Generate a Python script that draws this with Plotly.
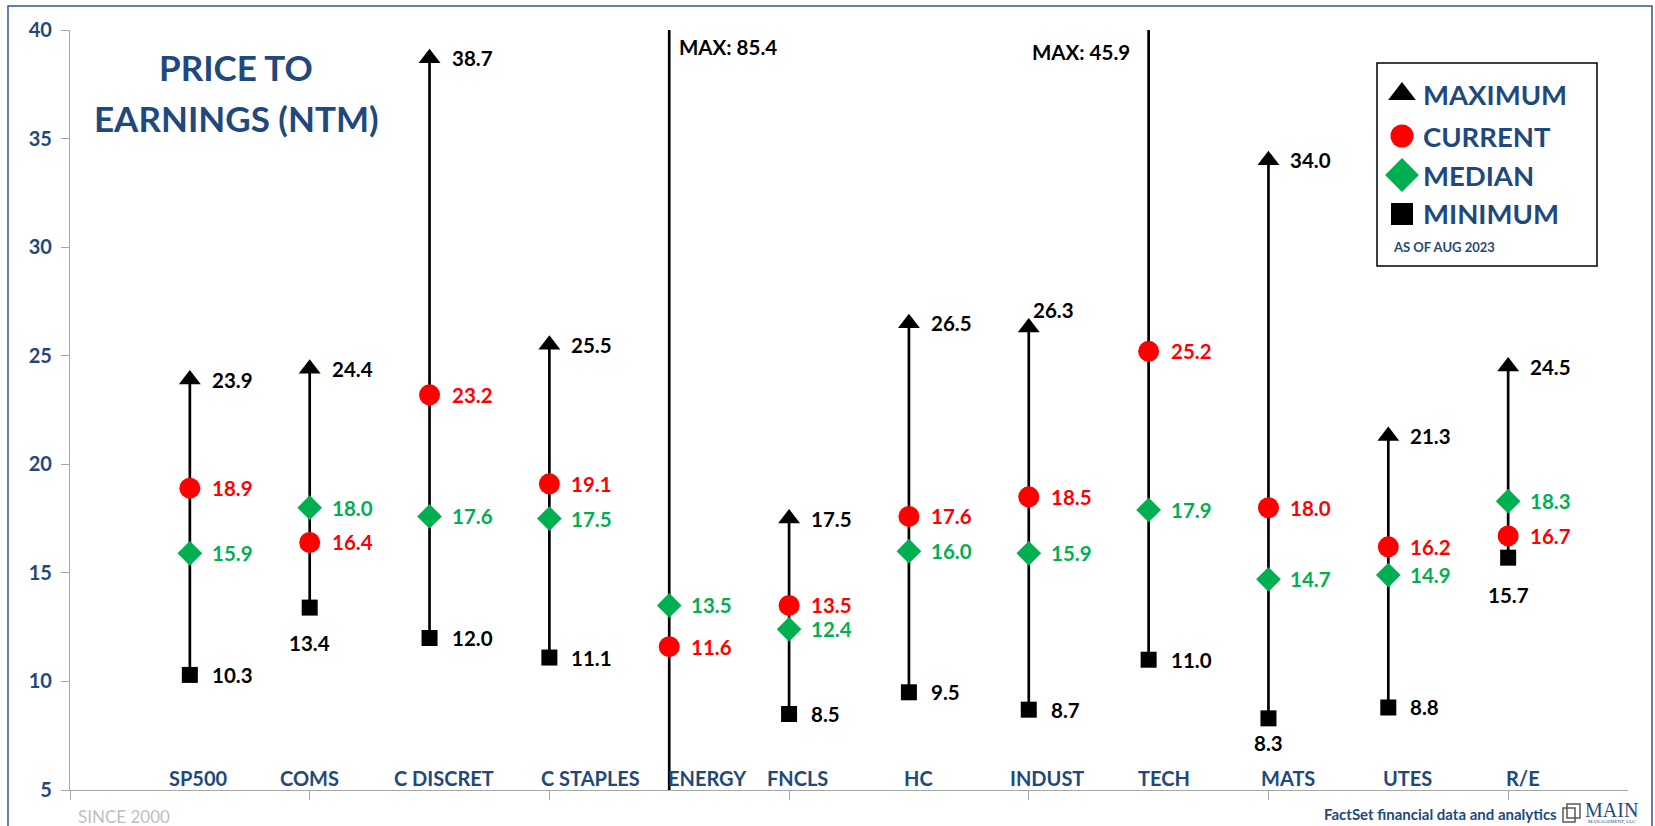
import plotly.graph_objects as go

# Sector forward P/E ranges since 2000
categories = ["SP500", "COMS", "C DISCRET", "C STAPLES", "ENERGY", "FNCLS",
              "HC", "INDUST", "TECH", "MATS", "UTES", "R/E"]
maximum = [23.9, 24.4, 38.7, 25.5, 85.4, 17.5, 26.5, 26.3, 45.9, 34.0, 21.3, 24.5]
current = [18.9, 16.4, 23.2, 19.1, 11.6, 13.5, 17.6, 18.5, 25.2, 18.0, 16.2, 16.7]
median = [15.9, 18.0, 17.6, 17.5, 13.5, 12.4, 16.0, 15.9, 17.9, 14.7, 14.9, 18.3]
minimum = [10.3, 13.4, 12.0, 11.1, 4.0, 8.5, 9.5, 8.7, 11.0, 8.3, 8.8, 15.7]
y_ticks = [5, 10, 15, 20, 25, 30, 35, 40]

W, H = 1655, 826
ML, MR, MT, MB = 70, 27, 30, 36
Y_MIN, Y_MAX = 5, 40
X_MAX = 13

BLUE = "#1F497D"
RED = "#FF0000"
GREEN = "#00B050"
FONT = "Lato"

xs = list(range(1, len(categories) + 1))

# horizontal nudge (px) of each category name relative to its range line
name_shift = {"SP500": 9, "COMS": 0, "C DISCRET": 14, "C STAPLES": 41,
              "ENERGY": 38, "FNCLS": 8, "HC": 10, "INDUST": 18, "TECH": 15,
              "MATS": 20, "UTES": 19, "R/E": 15}


def px(x):
    return (x - ML) / (W - ML - MR)


def py(y):
    return (H - MB - y) / (H - MT - MB)


fig = go.Figure()

# vertical range lines (min to max)
lx, ly = [], []
for x, lo, hi in zip(xs, minimum, maximum):
    lx += [x, x, None]
    ly += [lo, hi, None]
fig.add_trace(go.Scatter(x=lx, y=ly, mode="lines",
                         line=dict(color="black", width=2.7),
                         hoverinfo="skip", showlegend=False))

series = [
    ("MAXIMUM", maximum, "triangle-up", "black", 19),
    ("MINIMUM", minimum, "square", "black", 16),
    ("MEDIAN", median, "diamond", GREEN, 19),
    ("CURRENT", current, "circle", RED, 21),
]
for name, vals, sym, col, size in series:
    fig.add_trace(go.Scatter(x=xs, y=vals, mode="markers", name=name,
                             marker=dict(symbol=sym, color=col, size=size,
                                         line=dict(width=0)),
                             showlegend=False))

annotations = []


def lab(x, y, text, color, xshift=20, yshift=0, xanchor="left"):
    annotations.append(dict(x=x, y=y, xref="x", yref="y", text=text,
                            showarrow=False, xanchor=xanchor, yanchor="middle",
                            xshift=xshift, yshift=yshift,
                            font=dict(family=FONT, size=20.5, color=color,
                                      weight="bold")))


# label placement overrides: (series, category) -> (xshift, yshift, xanchor)
overrides = {
    ("max", "INDUST"): (2, 17, "left"),
    ("min", "COMS"): (0, -35, "center"),
    ("min", "MATS"): (0, -25, "center"),
    ("min", "R/E"): (0, -37, "center"),
}
off_chart_max = {"ENERGY", "TECH"}
off_chart_min = {"ENERGY"}

for x, c, mx, cu, me, mn in zip(xs, categories, maximum, current, median, minimum):
    if c not in off_chart_max:
        xs_, ys_, xa = overrides.get(("max", c), (20, 0, "left"))
        lab(x, mx, f"{mx:.1f}", "black", xs_, ys_, xa)
    lab(x, cu, f"{cu:.1f}", RED)
    lab(x, me, f"{me:.1f}", GREEN)
    if c not in off_chart_min:
        xs_, ys_, xa = overrides.get(("min", c), (20, 0, "left"))
        lab(x, mn, f"{mn:.1f}", "black", xs_, ys_, xa)

# values above the axis range are written at the top of the line
for x, c, mx in zip(xs, categories, maximum):
    if c == "ENERGY":
        annotations.append(dict(x=x, y=Y_MAX, xref="x", yref="y", text=f"MAX: {mx:.1f}",
                                showarrow=False, xanchor="left", yanchor="middle",
                                xshift=8, yshift=-17,
                                font=dict(family=FONT, size=20.5, color="black", weight="bold")))
    elif c == "TECH":
        annotations.append(dict(x=x, y=Y_MAX, xref="x", yref="y", text=f"MAX: {mx:.1f}",
                                showarrow=False, xanchor="right", yanchor="middle",
                                xshift=-17, yshift=-22,
                                font=dict(family=FONT, size=20.5, color="black", weight="bold")))

# category names just above the x axis
for x, c in zip(xs, categories):
    annotations.append(dict(x=x, y=Y_MIN, xref="x", yref="y", text=c,
                            showarrow=False, xanchor="center", yanchor="middle",
                            xshift=name_shift.get(c, 0), yshift=12,
                            font=dict(family=FONT, size=20, color=BLUE, weight="bold")))

# title (two lines)
for line_text, yc in (("PRICE TO", 67), ("EARNINGS (NTM)", 118)):
    annotations.append(dict(x=px(236), y=py(yc), xref="paper", yref="paper",
                            text=line_text, showarrow=False,
                            xanchor="center", yanchor="middle",
                            font=dict(family=FONT, size=35, color=BLUE, weight="bold")))

# legend box
shapes = [dict(type="rect", xref="paper", yref="paper",
               x0=px(1377), x1=px(1597), y0=py(63), y1=py(266),
               line=dict(color="black", width=1.5), fillcolor="white", layer="below")]
legend_items = [
    ("MAXIMUM", "triangle-up", "black", 24, 94),
    ("CURRENT", "circle", RED, 23, 136),
    ("MEDIAN", "diamond", GREEN, 26, 175),
    ("MINIMUM", "square", "black", 22, 214),
]
for text, sym, col, size, yc in legend_items:
    fig.add_trace(go.Scatter(x=[1402], y=[yc], mode="markers", xaxis="x2", yaxis="y2",
                             marker=dict(symbol=sym, color=col, size=size, line=dict(width=0)),
                             showlegend=False, hoverinfo="skip", cliponaxis=False))
    annotations.append(dict(x=px(1421), y=py(yc), xref="paper", yref="paper", text=text,
                            showarrow=False, xanchor="left", yanchor="middle",
                            font=dict(family=FONT, size=27.5, color=BLUE, weight="bold")))
annotations.append(dict(x=px(1391), y=py(247), xref="paper", yref="paper",
                        text="AS OF AUG 2023", showarrow=False, xanchor="left",
                        yanchor="middle",
                        font=dict(family=FONT, size=13, color=BLUE, weight="bold")))

# footer text
annotations.append(dict(x=px(76), y=py(816), xref="paper", yref="paper",
                        text="SINCE 2000", showarrow=False, xanchor="left", yanchor="middle",
                        font=dict(family=FONT, size=17, color="#BFBFBF")))
annotations.append(dict(x=px(1559), y=py(814), xref="paper", yref="paper",
                        text="FactSet financial data and analytics", showarrow=False,
                        xanchor="right", yanchor="middle",
                        font=dict(family=FONT, size=15, color=BLUE, weight="bold")))
annotations.append(dict(x=px(1611), y=py(810), xref="paper", yref="paper",
                        text="MAIN", showarrow=False, xanchor="center", yanchor="middle",
                        font=dict(family="Liberation Serif", size=20, color=BLUE)))
annotations.append(dict(x=px(1612), y=py(822), xref="paper", yref="paper",
                        text="MANAGEMENT, LLC", showarrow=False, xanchor="center",
                        yanchor="middle",
                        font=dict(family="Liberation Serif", size=5, color=BLUE)))

# logo icon: stacked frames
shapes += [
    dict(type="rect", xref="paper", yref="paper", x0=px(1563), x1=px(1575),
         y0=py(822), y1=py(808), line=dict(color="#595959", width=1.5)),
    dict(type="rect", xref="paper", yref="paper", x0=px(1567), x1=px(1580),
         y0=py(818), y1=py(804), line=dict(color="#595959", width=1.5)),
]

# outer frame around the chart
shapes.append(dict(type="rect", xref="paper", yref="paper",
                   x0=px(8), x1=px(1652), y0=py(840), y1=py(6),
                   line=dict(color="#2F5597", width=1.5), layer="below"))

fig.update_layout(
    width=W, height=H, autosize=False,
    margin=dict(l=ML, r=MR, t=MT, b=MB, pad=0),
    paper_bgcolor="white", plot_bgcolor="white",
    showlegend=False,
    xaxis=dict(range=[0, X_MAX], showgrid=False, zeroline=False,
               showline=True, linecolor="#A6A6A6", linewidth=1.2,
               ticks="outside", ticklen=9, tickcolor="#A6A6A6", tickwidth=1.2,
               tickmode="linear", tick0=0, dtick=2, showticklabels=False),
    yaxis=dict(range=[Y_MIN, Y_MAX], showgrid=False, zeroline=False,
               showline=True, linecolor="#A6A6A6", linewidth=1.2,
               ticks="outside", ticklen=8, tickcolor="#A6A6A6", tickwidth=1.2,
               tickmode="array", tickvals=y_ticks, ticklabelstandoff=5,
               tickfont=dict(family=FONT, size=20, color=BLUE, weight="bold")),
    xaxis2=dict(range=[ML, W - MR], overlaying="x", visible=False),
    yaxis2=dict(range=[H - MB, MT], overlaying="y", visible=False),
    annotations=annotations,
    shapes=shapes,
)

fig.write_html("out.html")
